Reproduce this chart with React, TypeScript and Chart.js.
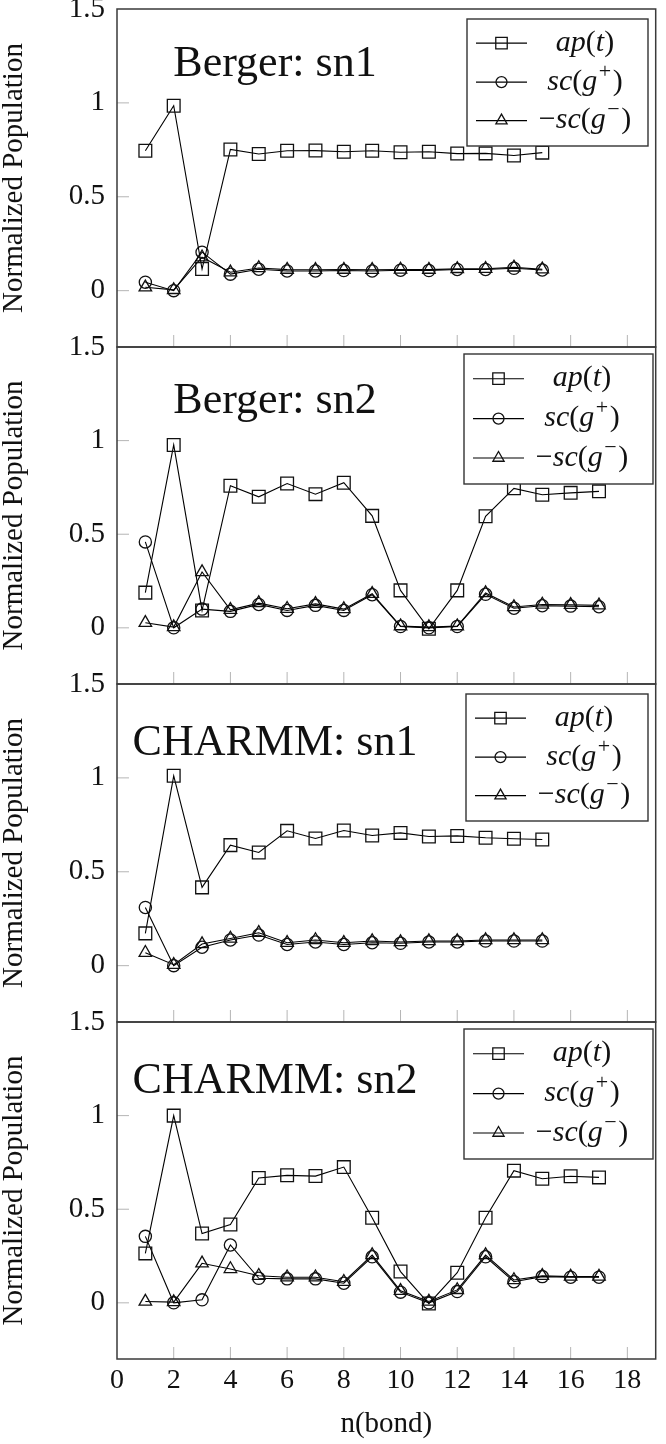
import React, { useEffect, useRef } from 'react';
import { Chart, registerables } from 'chart.js';

Chart.register(...registerables);

// ---------------- data ----------------
const BONDS_15 = [1, 2, 3, 4, 5, 6, 7, 8, 9, 10, 11, 12, 13, 14, 15];
const BONDS_17 = [1, 2, 3, 4, 5, 6, 7, 8, 9, 10, 11, 12, 13, 14, 15, 16, 17];
const X_TICKS = [0, 2, 4, 6, 8, 10, 12, 14, 16, 18];
const Y_TICKS = [0, 0.5, 1, 1.5];

const BERGER_SN1_AP = [0.745, 0.985, 0.115, 0.752, 0.728, 0.745, 0.746, 0.74, 0.745, 0.737, 0.74, 0.73, 0.731, 0.72, 0.735];
const BERGER_SN1_GP = [0.045, 0.0, 0.205, 0.088, 0.114, 0.105, 0.105, 0.107, 0.105, 0.109, 0.107, 0.113, 0.113, 0.119, 0.11];
const BERGER_SN1_GM = [0.018, 0.004, 0.178, 0.098, 0.121, 0.112, 0.111, 0.112, 0.111, 0.113, 0.112, 0.116, 0.117, 0.124, 0.114];

const BERGER_SN2_AP = [0.188, 0.977, 0.093, 0.759, 0.7, 0.771, 0.714, 0.775, 0.598, 0.2, -0.005, 0.2, 0.596, 0.745, 0.711, 0.721, 0.729];
const BERGER_SN2_GP = [0.459, 0.0, 0.1, 0.088, 0.125, 0.093, 0.12, 0.093, 0.177, 0.007, 0.0, 0.007, 0.179, 0.105, 0.118, 0.116, 0.113];
const BERGER_SN2_GM = [0.027, 0.004, 0.298, 0.096, 0.132, 0.102, 0.128, 0.1, 0.182, 0.009, 0.004, 0.009, 0.186, 0.111, 0.125, 0.123, 0.12];

const CHARMM_SN1_AP = [0.172, 1.011, 0.417, 0.642, 0.603, 0.718, 0.677, 0.72, 0.693, 0.707, 0.688, 0.691, 0.681, 0.676, 0.672];
const CHARMM_SN1_GP = [0.31, 0.0, 0.098, 0.137, 0.163, 0.113, 0.126, 0.113, 0.122, 0.119, 0.126, 0.126, 0.131, 0.131, 0.131];
const CHARMM_SN1_GM = [0.069, 0.005, 0.115, 0.145, 0.175, 0.122, 0.137, 0.122, 0.131, 0.126, 0.131, 0.131, 0.137, 0.137, 0.137];

const CHARMM_SN2_AP = [0.264, 1.0, 0.37, 0.418, 0.667, 0.681, 0.677, 0.725, 0.454, 0.167, -0.004, 0.161, 0.454, 0.706, 0.663, 0.676, 0.67];
const CHARMM_SN2_GP = [0.355, 0.0, 0.016, 0.309, 0.131, 0.128, 0.128, 0.105, 0.246, 0.057, 0.0, 0.06, 0.246, 0.113, 0.14, 0.137, 0.137];
const CHARMM_SN2_GM = [0.007, 0.004, 0.211, 0.181, 0.145, 0.137, 0.137, 0.113, 0.255, 0.064, 0.007, 0.069, 0.255, 0.122, 0.144, 0.14, 0.14];

const PANEL_TITLES = ['Berger: sn1', 'Berger: sn2', 'CHARMM: sn1', 'CHARMM: sn2'];
const PANEL_BONDS = [BONDS_15, BONDS_17, BONDS_15, BONDS_17];
const PANEL_AP = [BERGER_SN1_AP, BERGER_SN2_AP, CHARMM_SN1_AP, CHARMM_SN2_AP];
const PANEL_GP = [BERGER_SN1_GP, BERGER_SN2_GP, CHARMM_SN1_GP, CHARMM_SN2_GP];
const PANEL_GM = [BERGER_SN1_GM, BERGER_SN2_GM, CHARMM_SN1_GM, CHARMM_SN2_GM];
const SERIES_NAMES = ['ap(t)', 'sc(g+)', '-sc(g-)'];
const X_TITLE = 'n(bond)';
const Y_TITLE = 'Normalized Population';

// ---------------- layout / style ----------------
const FONT = '"Liberation Serif", "Times New Roman", serif';
const LAYOUT = [
  { top: 9, height: 338, titleDy: 67, legend: { x: 467, dy: 10, w: 181, h: 127 } },
  { top: 347, height: 337, titleDy: 66, legend: { x: 464, dy: 7, w: 189, h: 130 } },
  { top: 684, height: 338, titleDy: 71, legend: { x: 466, dy: 10, w: 182, h: 127 } },
  { top: 1022, height: 337, titleDy: 71, legend: { x: 464, dy: 7, w: 189, h: 130 } },
];
const MARKERS = [
  { style: 'rect', radius: 9 },
  { style: 'circle', radius: 6.1 },
  { style: 'triangle', radius: 7.2 },
];

type Seg = { t: string; k: 'it' | 'up' | 'sup' };
const LEGEND_TEXT: Seg[][] = [
  [{ t: 'ap', k: 'it' }, { t: '(', k: 'up' }, { t: 't', k: 'it' }, { t: ')', k: 'up' }],
  [{ t: 'sc', k: 'it' }, { t: '(', k: 'up' }, { t: 'g', k: 'it' }, { t: '+', k: 'sup' }, { t: ')', k: 'up' }],
  [{ t: '\u2212', k: 'up' }, { t: 'sc', k: 'it' }, { t: '(', k: 'up' }, { t: 'g', k: 'it' }, { t: '\u2212', k: 'sup' }, { t: ')', k: 'up' }],
];

function drawMarker(ctx: CanvasRenderingContext2D, style: string, r: number, x: number, y: number) {
  ctx.beginPath();
  if (style === 'rect') {
    const s = Math.SQRT1_2 * r;
    ctx.rect(x - s, y - s, 2 * s, 2 * s);
  } else if (style === 'circle') {
    ctx.arc(x, y, r, 0, Math.PI * 2);
  } else {
    const h = (Math.sqrt(3) / 2) * r;
    ctx.moveTo(x, y - r);
    ctx.lineTo(x + h, y + r / 2);
    ctx.lineTo(x - h, y + r / 2);
    ctx.closePath();
  }
  ctx.stroke();
}

function segFont(k: string, size: number) {
  if (k === 'it') return `italic ${size}px ${FONT}`;
  if (k === 'sup') return `${Math.round(size * 0.72)}px ${FONT}`;
  return `${size}px ${FONT}`;
}

function drawMath(ctx: CanvasRenderingContext2D, segs: Seg[], cx: number, baseline: number, size: number) {
  let total = 0;
  const widths = segs.map((s) => {
    ctx.font = segFont(s.k, size);
    const w = ctx.measureText(s.t).width + (s.k === 'sup' ? 3 : 0);
    total += w;
    return w;
  });
  let x = cx - total / 2;
  ctx.textAlign = 'left';
  ctx.textBaseline = 'alphabetic';
  segs.forEach((s, i) => {
    ctx.font = segFont(s.k, size);
    const y = s.k === 'sup' ? baseline - size * 0.4 : baseline;
    ctx.fillText(s.t, x + (s.k === 'sup' ? 1.5 : 0), y);
    x += widths[i];
  });
}

function makeDecor(idx: number) {
  const L = LAYOUT[idx];
  return {
    id: 'decor' + idx,
    beforeDatasetsDraw(chart: any) {
      const { ctx, chartArea: a, scales } = chart;
      ctx.save();
      ctx.strokeStyle = '#b5b5b5';
      ctx.lineWidth = 1;
      ctx.beginPath();
      X_TICKS.forEach((v) => {
        if (v === 0) return;
        const px = scales.x.getPixelForValue(v);
        ctx.moveTo(px, a.bottom);
        ctx.lineTo(px, a.bottom - 12);
      });
      Y_TICKS.forEach((v) => {
        if (v === 1.5) return;
        const py = scales.y.getPixelForValue(v);
        ctx.moveTo(a.left, py);
        ctx.lineTo(a.left + 12, py);
      });
      ctx.stroke();
      ctx.restore();
    },
    afterDatasetsDraw(chart: any) {
      const { ctx, chartArea: a } = chart;
      ctx.save();
      // frame
      ctx.strokeStyle = '#3a3a3a';
      ctx.lineWidth = 1.5;
      ctx.strokeRect(a.left, a.top, a.right - a.left, a.bottom - a.top);
      // panel title
      ctx.fillStyle = '#111';
      ctx.font = `44px ${FONT}`;
      ctx.textAlign = 'center';
      ctx.textBaseline = 'alphabetic';
      ctx.fillText(PANEL_TITLES[idx], 275, a.top + L.titleDy);
      // legend
      const lg = L.legend;
      const bx = lg.x;
      const by = a.top + lg.dy;
      ctx.fillStyle = '#fff';
      ctx.fillRect(bx, by, lg.w, lg.h);
      ctx.strokeStyle = '#333';
      ctx.lineWidth = 1.4;
      ctx.strokeRect(bx, by, lg.w, lg.h);
      const rows = [0.19, 0.497, 0.8];
      rows.forEach((f, i) => {
        const ry = by + lg.h * f;
        ctx.strokeStyle = '#000';
        ctx.lineWidth = 1.1;
        ctx.beginPath();
        ctx.moveTo(bx + 9, ry);
        ctx.lineTo(bx + 60, ry);
        ctx.stroke();
        ctx.strokeStyle = '#111';
        ctx.lineWidth = 1.3;
        const m = MARKERS[i];
        drawMarker(ctx, m.style, m.radius * 0.9, bx + 34.5, ry);
        ctx.fillStyle = '#111';
        drawMath(ctx, LEGEND_TEXT[i], bx + 118, ry + 7.5, 30);
      });
      ctx.restore();
    },
  };
}

function PanelChart({ idx }: { idx: number }) {
  const ref = useRef<HTMLCanvasElement | null>(null);
  const L = LAYOUT[idx];
  const last = idx === LAYOUT.length - 1;
  const padTop = 30;
  const padBottom = last ? 2 : 30;
  const axisH = last ? 83 : 0;
  const canvasH = padTop + L.height + axisH + padBottom;

  useEffect(() => {
    const bonds = PANEL_BONDS[idx];
    const series = [PANEL_AP[idx], PANEL_GP[idx], PANEL_GM[idx]];
    const datasets = series.map((vals, si) => ({
      label: SERIES_NAMES[si],
      data: bonds.map((b, i) => ({ x: b, y: vals[i] })),
      borderColor: '#000',
      borderWidth: 1.1,
      pointStyle: MARKERS[si].style as any,
      pointRadius: MARKERS[si].radius,
      pointBorderColor: '#111',
      pointBorderWidth: 1.3,
      pointBackgroundColor: 'rgba(255,255,255,0)',
      tension: 0,
      fill: false,
      clip: false as any,
    }));

    const chart = new Chart(ref.current as HTMLCanvasElement, {
      type: 'line',
      data: { datasets },
      options: {
        responsive: false,
        animation: false,
        events: [],
        layout: { padding: { top: padTop, bottom: padBottom, left: 0, right: 2 } },
        plugins: { legend: { display: false }, tooltip: { enabled: false } },
        scales: {
          x: {
            type: 'linear',
            min: 0,
            max: 19,
            display: last,
            afterBuildTicks: (s: any) => {
              s.ticks = X_TICKS.map((v) => ({ value: v }));
            },
            afterFit: (s: any) => {
              if (last) s.height = axisH;
            },
            grid: { display: false, drawTicks: false },
            border: { display: false },
            ticks: {
              font: { family: FONT, size: 28 },
              color: '#111',
              padding: 5,
              maxRotation: 0,
              autoSkip: false,
              callback: (v: any) => String(v),
            },
            title: {
              display: true,
              text: X_TITLE,
              color: '#111',
              font: { family: FONT, size: 29, lineHeight: 1.2 },
              padding: { top: 0, bottom: 0 },
            },
          },
          y: {
            type: 'linear',
            min: -0.3,
            max: 1.5,
            afterBuildTicks: (s: any) => {
              s.ticks = Y_TICKS.map((v) => ({ value: v }));
            },
            afterFit: (s: any) => {
              s.width = 117;
            },
            grid: { display: false, drawTicks: false },
            border: { display: false },
            ticks: {
              font: { family: FONT, size: 29 },
              color: '#111',
              padding: 12,
              callback: (v: any) => String(v),
            },
            title: {
              display: true,
              text: Y_TITLE,
              color: '#111',
              font: { family: FONT, size: 29, lineHeight: 1.0 },
              padding: { top: 0, bottom: 0 },
            },
          },
        },
      } as any,
      plugins: [makeDecor(idx)],
    });
    return () => chart.destroy();
  }, [idx]);

  return (
    <canvas
      ref={ref}
      width={666}
      height={canvasH}
      style={{ position: 'absolute', left: 0, top: L.top - padTop, width: 666, height: canvasH }}
    />
  );
}

export default function App() {
  return (
    <div style={{ position: 'absolute', left: 0, top: 0, width: 666, height: 1444, overflow: 'hidden', background: '#fff' }}>
      {LAYOUT.map((_, i) => (
        <PanelChart key={i} idx={i} />
      ))}
    </div>
  );
}
